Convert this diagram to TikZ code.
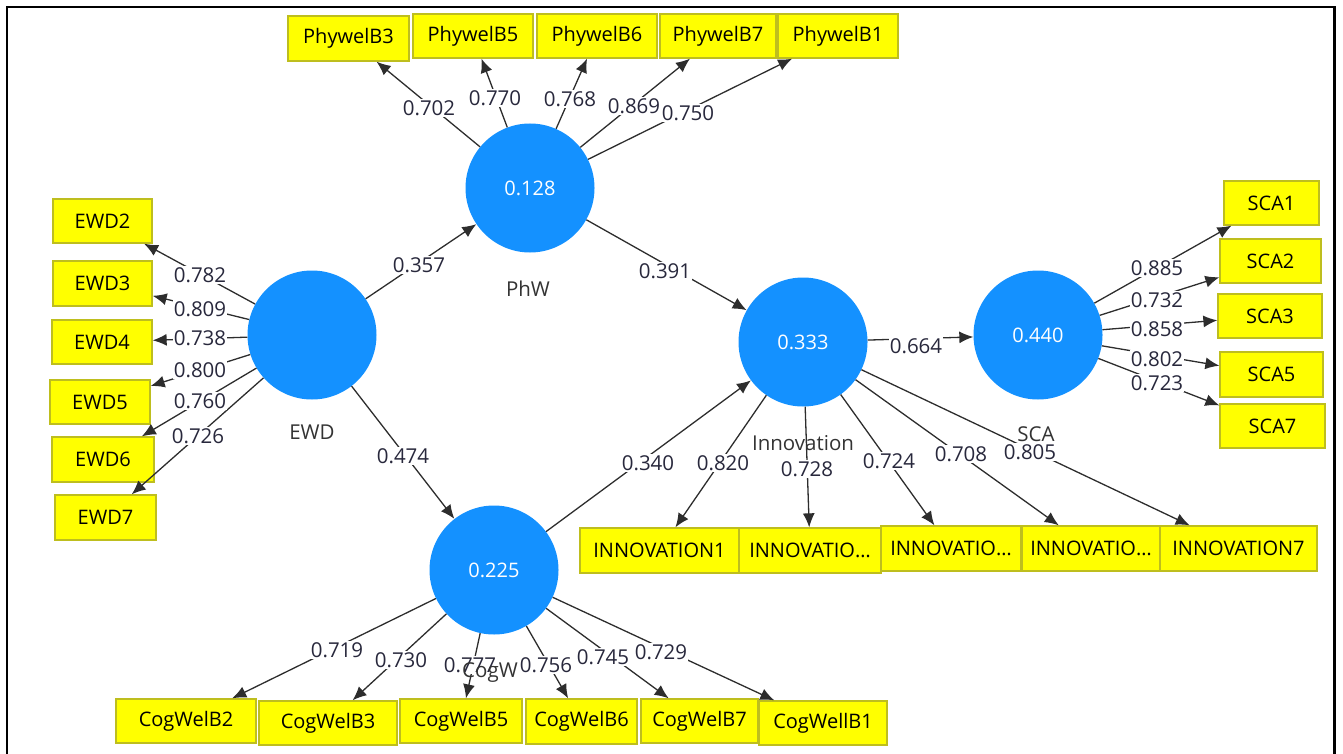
\documentclass[tikz,border=0pt]{standalone}
\usepackage{fontspec}
\setmainfont{Open Sans}
\usetikzlibrary{arrows.meta}

\definecolor{lvblue}{RGB}{20,145,255}
\definecolor{indfill}{RGB}{255,255,0}
\definecolor{indline}{RGB}{190,190,30}
\definecolor{edgegray}{RGB}{45,45,45}
\definecolor{lbltext}{RGB}{40,40,60}

\tikzset{
  lv/.style={circle, fill=lvblue, draw=none, minimum size=129pt, inner sep=0pt,
             text=white, font=\fontsize{20}{24}\selectfont},
  ind/.style={rectangle, fill=indfill, draw=indline, line width=1.3pt, inner sep=0pt,
              text=black, font=\fontsize{20}{24}\selectfont},
  arr/.style={draw=edgegray, line width=1.3pt, -{Latex[length=14pt,width=12pt]}},
  lbl/.style={fill=white, inner sep=1pt, text=lbltext, font=\fontsize{20.5}{24}\selectfont},
  lvname/.style={inner sep=0pt, text=black!80, font=\fontsize{20.5}{24}\selectfont}
}

\begin{document}
\begin{tikzpicture}[x=1pt, y=-1pt]
\useasboundingbox (0,0) rectangle (1343,754);

% outer frame
\draw[line width=2.5pt] (7,754) -- (7,7) -- (1334.5,7) -- (1334.5,754);

% latent variables
\node[lv] (PhW) at (530,188) {0.128};
\node[lv] (EWD) at (312,335) {};
\node[lv] (CogW) at (494,570) {0.225};
\node[lv] (Inn) at (803,342) {0.333};
\node[lv] (SCA) at (1038,335) {0.440};

% PhW indicators
\node[ind, minimum width=121pt, minimum height=45pt] (pb3) at (348.5,38.5) {PhywelB3};
\node[ind, minimum width=120pt, minimum height=44pt] (pb5) at (473,36) {PhywelB5};
\node[ind, minimum width=120pt, minimum height=44pt] (pb6) at (597,36) {PhywelB6};
\node[ind, minimum width=116pt, minimum height=44pt] (pb7) at (718,36) {PhywelB7};
\node[ind, minimum width=120pt, minimum height=44pt] (pb1) at (838,36) {PhywelB1};

% EWD indicators
\node[ind, minimum width=99pt, minimum height=44pt] (e2) at (102.5,221) {EWD2};
\node[ind, minimum width=99pt, minimum height=45pt] (e3) at (102.5,283.5) {EWD3};
\node[ind, minimum width=100pt, minimum height=44pt] (e4) at (102,342) {EWD4};
\node[ind, minimum width=100pt, minimum height=44pt] (e5) at (100,402) {EWD5};
\node[ind, minimum width=102pt, minimum height=45pt] (e6) at (103,459.5) {EWD6};
\node[ind, minimum width=101pt, minimum height=45pt] (e7) at (105.5,517.5) {EWD7};

% Innovation indicators
\node[ind, minimum width=159pt, minimum height=45pt] (i1) at (659.5,550.5) {INNOVATION1};
\node[ind, minimum width=142pt, minimum height=45pt] (i2) at (810,550.5) {INNOVATIO…};
\node[ind, minimum width=140pt, minimum height=45pt] (i3) at (951,548.5) {INNOVATIO…};
\node[ind, minimum width=138pt, minimum height=45pt] (i4) at (1091,548.5) {INNOVATIO…};
\node[ind, minimum width=157pt, minimum height=45pt] (i7) at (1238.5,548.5) {INNOVATION7};

% SCA indicators
\node[ind, minimum width=95pt, minimum height=44pt] (s1) at (1271.5,203) {SCA1};
\node[ind, minimum width=101pt, minimum height=44pt] (s2) at (1270.5,261) {SCA2};
\node[ind, minimum width=104pt, minimum height=44pt] (s3) at (1270,316) {SCA3};
\node[ind, minimum width=103pt, minimum height=45pt] (s5) at (1271.5,374.5) {SCA5};
\node[ind, minimum width=105pt, minimum height=44pt] (s7) at (1272.5,426) {SCA7};

% CogW indicators
\node[ind, minimum width=140pt, minimum height=44pt] (c2) at (186,721) {CogWelB2};
\node[ind, minimum width=138pt, minimum height=44pt] (c3) at (328,723) {CogWelB3};
\node[ind, minimum width=122pt, minimum height=44pt] (c5) at (461,721) {CogWelB5};
\node[ind, minimum width=111pt, minimum height=45pt] (c6) at (581.5,721.5) {CogWelB6};
\node[ind, minimum width=117pt, minimum height=44pt] (c7) at (699.5,721) {CogWelB7};
\node[ind, minimum width=128pt, minimum height=44pt] (c1) at (823,723) {CogWellB1};

% structural paths
\draw[arr] (EWD) -- (PhW);
\draw[arr] (EWD) -- (CogW);
\draw[arr] (PhW) -- (Inn);
\draw[arr] (CogW) -- (Inn);
\draw[arr] (Inn) -- (SCA);

% outer loadings
\foreach \t in {pb3,pb5,pb6,pb7,pb1} \draw[arr] (PhW) -- (\t);
\foreach \t in {e2,e3,e4,e5,e6,e7} \draw[arr] (EWD) -- (\t);
\foreach \t in {i1,i2,i3,i4,i7} \draw[arr] (Inn) -- (\t);
\foreach \t in {s1,s2,s3,s5,s7} \draw[arr] (SCA) -- (\t);
\foreach \t in {c2,c3,c5,c6,c7,c1} \draw[arr] (CogW) -- (\t);

% path coefficients
\node[lbl] (k1) at (419,265) {0.357};
\node[lbl] (k2) at (403,456) {0.474};
\node[lbl] (k3) at (665,271) {0.391};
\node[lbl] (k4) at (648,463) {0.340};
\node[lbl] (k5) at (916,346) {0.664};

% loadings
\node[lbl] (lp3) at (429,108) {0.702};
\node[lbl] (lp5) at (495,98) {0.770};
\node[lbl] (lp6) at (570,99) {0.768};
\node[lbl] (lp7) at (634,106) {0.869};
\node[lbl] (lp1) at (688,113) {0.750};

\node[lbl] (le2) at (200,275) {0.782};
\node[lbl] (le3) at (200,309) {0.809};
\node[lbl] (le4) at (200,338) {0.738};
\node[lbl] (le5) at (200,370) {0.800};
\node[lbl] (le6) at (200,401) {0.760};
\node[lbl] (le7) at (198,436) {0.726};

\node[lbl] (li1) at (723,463) {0.820};
\node[lbl] (li2) at (807,469) {0.728};
\node[lbl] (li3) at (889,461) {0.724};
\node[lbl] (li4) at (961,454) {0.708};
\node[lbl] (li7) at (1030,452) {0.805};

\node[lbl] (ls1) at (1157,268) {0.885};
\node[lbl] (ls2) at (1157,300) {0.732};
\node[lbl] (ls3) at (1157,329) {0.858};
\node[lbl] (ls5) at (1157,359) {0.802};
\node[lbl] (ls7) at (1157,383) {0.723};

\node[lbl] (lc2) at (337,650) {0.719};
\node[lbl] (lc3) at (401,660) {0.730};
\node[lbl] (lc5) at (470,665) {0.777};
\node[lbl] (lc6) at (546,665) {0.756};
\node[lbl] (lc7) at (603,657) {0.745};
\node[lbl] (lc1) at (661,652) {0.729};

% construct names
\node[lvname] (nPhW) at (528,289) {PhW};
\node[lvname] (nEWD) at (312,432) {EWD};
\node[lvname] (nInn) at (803,443) {Innovation};
\node[lvname] (nSCA) at (1036,434) {SCA};
\node[lvname] (nCog) at (490,673) {CogW};
\end{tikzpicture}
\end{document}
